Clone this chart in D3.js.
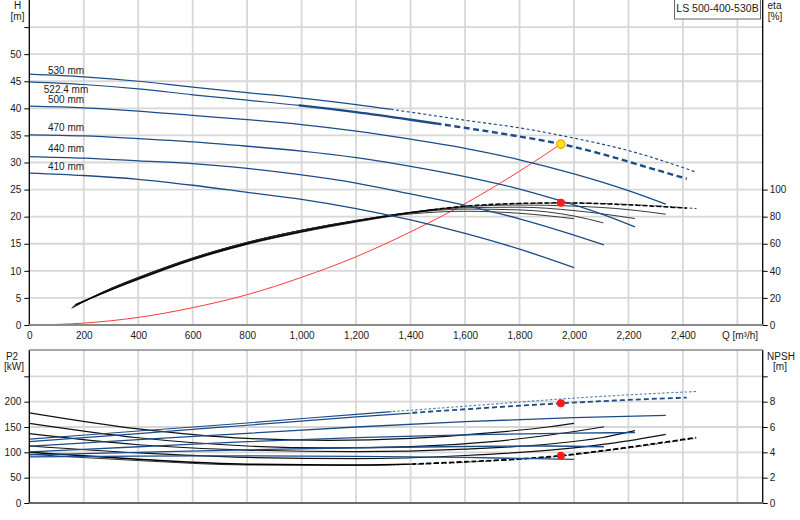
<!DOCTYPE html>
<html><head><meta charset="utf-8">
<script src="https://cdn.jsdelivr.net/npm/d3@7"></script>
<style>body{margin:0;background:#fff}svg{display:block;font-family:"Liberation Sans",Arial,sans-serif}</style>
</head><body><svg id="c" width="800" height="520"></svg>
<script>
// ---------- DATA ----------
const curveLabels = ["530 mm","522.4 mm","500 mm","470 mm","440 mm","410 mm"];
const pumpName = "LS 500-400-530B";
const qTicks = [0,200,400,600,800,1000,1200,1400,1600,1800,2000,2200,2400];
const qGrid = [200,400,600,800,1000,1200,1400,1600,1800,2000,2200,2400,2600];
const hTicks = [0,5,10,15,20,25,30,35,40,45,50,55];
const etaTicks = [0,20,40,60,80,100];
const p2Ticks = [0,50,100,150,200,250];
const npshTicks = [0,2,4,6,8,10];

// Head H [m] vs Q [m3/h]
const H530 = [[0,46.3],[200,45.8],[400,45.0],[600,43.9],[800,42.9],[1000,41.9],[1200,40.7],[1400,39.3],[1600,37.8],[1800,36.4],[2000,34.5],[2200,32.2],[2450,28.2]];
const H522 = [[0,44.9],[200,44.4],[400,43.6],[600,42.5],[800,41.5],[1000,40.5],[1200,39.3],[1400,37.9],[1600,36.4],[1800,34.8],[1953,33.4],[2100,31.6],[2250,29.4],[2414,27.0]];
const H500 = [[0,40.4],[200,40.1],[400,39.5],[600,38.7],[800,37.9],[1000,37.0],[1200,35.8],[1400,34.3],[1600,32.6],[1800,30.5],[2000,27.9],[2200,24.8],[2337,22.3]];
const H470 = [[0,35.1],[200,34.9],[400,34.4],[600,33.8],[800,33.0],[1000,32.1],[1200,30.9],[1400,29.3],[1600,27.4],[1800,25.1],[1953,22.9],[2100,20.5],[2224,18.1]];
const H440 = [[0,31.1],[200,30.8],[400,30.3],[600,29.8],[800,28.9],[1000,27.7],[1200,26.2],[1400,24.2],[1600,22.1],[1800,19.6],[2000,16.6],[2110,14.8]];
const H410 = [[0,28.05],[200,27.6],[400,26.9],[600,25.8],[800,24.5],[1000,23.2],[1200,21.5],[1400,19.4],[1600,16.9],[1800,14.0],[2000,10.6]];

// Efficiency eta [%]
const E530 = [[180,16],[300,26],[400,33.5],[600,48],[800,59.5],[1000,68.5],[1200,76],[1400,82.5],[1600,87.3],[1800,89.6],[2000,90.1],[2200,89],[2450,86]];
const E522 = [[170,15],[300,26],[400,34],[600,48.5],[800,60],[1000,69],[1200,76.5],[1400,83],[1600,87.8],[1800,89.8],[1953,90.2],[2100,89.6],[2250,88.2],[2414,86.3]];
const E500 = [[165,14.5],[300,26.5],[400,34.5],[600,49],[800,60.5],[1000,69.5],[1200,77],[1400,83.2],[1600,87.4],[1800,88.6],[2000,87.8],[2200,85.2],[2337,81.8]];
const E470 = [[160,13.5],[300,27],[400,34.8],[600,49.3],[800,61],[1000,70],[1200,77.2],[1400,83.2],[1600,86.6],[1800,87],[2000,84.5],[2224,78.6]];
const E440 = [[158,13],[300,27],[400,35],[600,49.5],[800,61],[1000,70],[1200,77.2],[1400,82.8],[1600,85.6],[1800,85],[2000,80.5],[2108,75.4]];
const E410 = [[155,12.3],[300,27],[400,35.2],[600,49.5],[800,61],[1000,70],[1200,77],[1400,82],[1600,84],[1800,82.5],[2000,78.5]];

// System curve H [m]
const SYS = [[0,0],[200,0.35],[400,1.4],[600,3.2],[800,5.6],[1000,8.8],[1200,12.6],[1400,17.2],[1600,22.4],[1800,28.4],[1952,33.4]];

// Power P2 [kW]
const P530 = [[0,126],[400,142],[800,158],[1200,175],[1600,191],[2000,207],[2200,213.5],[2450,220]];
const P522 = [[0,121],[400,137],[800,153.5],[1200,170],[1600,185],[1953,196.8],[2200,203.5],[2414,208]];
const P500 = [[0,112],[400,125],[800,137.5],[1200,150],[1600,160.5],[2000,168.5],[2337,173]];
const P470 = [[0,101],[400,111],[800,121],[1200,129],[1600,134.5],[2000,138],[2224,139]];
const P440 = [[0,95],[400,100],[800,105],[1200,109],[1600,111.5],[1900,112.5],[2110,111]];
const P410 = [[0,91],[400,92.5],[800,93],[1200,92],[1600,90],[2000,86]];

// NPSH [m]
const N530 = [[0,3.85],[400,3.35],[800,3.0],[1200,2.98],[1600,3.22],[1950,3.7],[2200,4.35],[2450,5.12]];
const N522 = [[0,4.0],[400,3.45],[800,3.06],[1200,3.0],[1600,3.25],[1953,3.74],[2200,4.4],[2447,5.16]];
const N500 = [[0,4.5],[400,3.95],[800,3.6],[1200,3.5],[1600,3.75],[1912,4.18],[2150,4.75],[2337,5.42]];
const N470 = [[0,5.47],[400,4.6],[800,4.18],[1200,4.05],[1600,4.25],[1912,4.66],[2100,5.15],[2224,5.71]];
const N440 = [[0,6.29],[400,5.15],[800,4.5],[1100,4.35],[1400,4.45],[1700,4.85],[1912,5.37],[2110,6.02]];
const N410 = [[0,7.12],[400,5.85],[800,5.1],[1100,4.95],[1400,5.1],[1700,5.55],[1912,6.02],[2000,6.28]];

// Duty point
const dutyQ = 1952, dutyH = 33.4, dutyEta = 90.2, dutyP2 = 196.8, dutyNPSH = 3.74;

// ---------- CHART ----------
const svg = d3.select("#c");
const BLUE = "#1b4c88", GRID = "#d7d7d7", TXT = "#1a1a1a";
const x = d3.scaleLinear().domain([0,2693]).range([29.3,762.7]);
const yH = d3.scaleLinear().domain([0,60]).range([325,0]);
const yE = d3.scaleLinear().domain([0,240]).range([325,0]);
const yP = d3.scaleLinear().domain([0,300]).range([503,351]);
const yN = d3.scaleLinear().domain([0,12]).range([503,351]);

const defs = svg.append("defs");
function clip(id, q0, q1, y0, y1){
  defs.append("clipPath").attr("id",id).append("rect")
    .attr("x",x(q0)).attr("width",x(q1)-x(q0)).attr("y",y0).attr("height",y1-y0);
}

// grids
const g = svg.append("g");
g.selectAll(".vg1").data(qGrid).join("line").attr("x1",d=>x(d)).attr("x2",d=>x(d)).attr("y1",0).attr("y2",325).attr("stroke",GRID).attr("stroke-width",1.8);
g.selectAll(".hg1").data(hTicks.filter(d=>d>0)).join("line").attr("x1",x(0)).attr("x2",x(2693)).attr("y1",d=>yH(d)).attr("y2",d=>yH(d)).attr("stroke",GRID).attr("stroke-width",1.8);
g.selectAll(".vg2").data(qGrid).join("line").attr("x1",d=>x(d)).attr("x2",d=>x(d)).attr("y1",350).attr("y2",503).attr("stroke",GRID).attr("stroke-width",1.8);
g.selectAll(".hg2").data(p2Ticks.filter(d=>d>0)).join("line").attr("x1",x(0)).attr("x2",x(2693)).attr("y1",d=>yP(d)).attr("y2",d=>yP(d)).attr("stroke",GRID).attr("stroke-width",1.8);

const lineGen = ys => d3.line().x(d=>x(d[0])).y(d=>ys(d[1])).curve(d3.curveMonotoneX);

function draw(data, ys, color, width, dash, clipId){
  const p = svg.append("path").attr("d", lineGen(ys)(data)).attr("fill","none")
    .attr("stroke",color).attr("stroke-width",width).attr("stroke-linejoin","round");
  if(dash) p.attr("stroke-dasharray",dash);
  if(clipId) p.attr("clip-path",`url(#${clipId})`);
  return p;
}
// clip regions for styled segments
clip("t530a",0,1330,0,325); clip("t530b",1330,2693,0,325);
clip("t522a",0,990,0,325); clip("t522b",990,1500,0,325); clip("t522c",1500,2693,0,325);
clip("e522a",0,1500,0,325); clip("e522b",1500,2693,0,325);
clip("b530a",0,1330,350,503); clip("b530b",1330,2693,350,503);
clip("b522a",0,1400,350,503); clip("b522b",1400,2693,350,503);

// ---- top chart: system curve
draw(SYS, yH, "#ff3b3b", 1, null);

// ---- efficiency curves (black)
[E410,E440,E470,E500].forEach(d=>draw(d, yE, "#222", 0.9, null));
draw(E530, yE, "#333", 0.9, null, "t530a");
draw(E530, yE, "#333", 0.9, "3,2", "t530b");
draw(E522, yE, "#000", 1.4, null, "e522a");
draw(E522, yE, "#000", 1.5, "5,2", "e522b");

// ---- head curves (blue)
[H410,H440,H470,H500].forEach(d=>draw(d, yH, BLUE, 1.3, null));
draw(H530, yH, BLUE, 1.2, null, "t530a");
draw(H530, yH, BLUE, 1.2, "3,2.5", "t530b");
draw(H522, yH, BLUE, 1.2, null, "t522a");
draw(H522, yH, BLUE, 2.4, null, "t522b");
draw(H522, yH, BLUE, 2.4, "6,3.5", "t522c");

// ---- bottom chart NPSH (black)
[N410,N440,N470,N500].forEach(d=>draw(d, yN, "#111", 1.2, null));
draw(N530, yN, "#333", 1, null, "b530a");
draw(N530, yN, "#333", 1, "2,2", "b530b");
draw(N522, yN, "#000", 1.5, null, "b522a");
draw(N522, yN, "#000", 1.8, "5,2.5", "b522b");

// ---- bottom chart P2 (blue)
[P410,P440,P470,P500].forEach(d=>draw(d, yP, BLUE, 1.3, null));
draw(P530, yP, BLUE, 1.1, null, "b530a");
draw(P530, yP, "#5a7fae", 1.1, "2.5,2", "b530b");
draw(P522, yP, BLUE, 1.2, null, "b522a");
draw(P522, yP, BLUE, 1.8, "5,3", "b522b");

// ---- duty points
svg.append("circle").attr("cx",x(dutyQ)).attr("cy",yE(dutyEta)).attr("r",4).attr("fill","#ff1a1a");
svg.append("circle").attr("cx",x(dutyQ)).attr("cy",yH(dutyH)).attr("r",4.2).attr("fill","#ffe31a").attr("stroke","#f0a000").attr("stroke-width",1.2);
svg.append("circle").attr("cx",x(dutyQ)).attr("cy",yP(dutyP2)).attr("r",4).attr("fill","#ff1a1a");
svg.append("circle").attr("cx",x(dutyQ)).attr("cy",yN(dutyNPSH)).attr("r",4).attr("fill","#ff1a1a");

// ---- curve labels
const labelPos = [[66,74],[66,93],[66,103],[66,130.5],[66,152],[66,169.5]];
curveLabels.forEach((t,i)=>{
  svg.append("text").attr("x",labelPos[i][0]).attr("y",labelPos[i][1]).attr("text-anchor","middle")
    .attr("font-size",10).attr("fill",TXT).text(t);
});

// ---- axes
function styleAxis(sel){
  sel.select(".domain").remove();
  sel.selectAll("text").attr("font-size",10).attr("fill",TXT).style("font-family",'"Liberation Sans",Arial,sans-serif');
  sel.selectAll("line").attr("stroke","#000");
}
svg.append("g").attr("transform",`translate(${x(0)},0)`)
  .call(d3.axisLeft(yH).tickValues(hTicks).tickSize(5).tickPadding(3).tickFormat(d=>d<=50?d:""))
  .call(styleAxis);
svg.append("g").attr("transform",`translate(${x(2693)},0)`)
  .call(d3.axisRight(yE).tickValues(etaTicks).tickSize(5).tickPadding(2))
  .call(styleAxis);
svg.append("g").attr("transform",`translate(0,325)`)
  .call(d3.axisBottom(x).tickValues(qTicks).tickSize(0).tickPadding(7).tickFormat(d3.format(",")))
  .call(styleAxis);
svg.append("g").attr("transform",`translate(${x(0)},0)`)
  .call(d3.axisLeft(yP).tickValues(p2Ticks).tickSize(5).tickPadding(3).tickFormat(d=>d<=200?d:""))
  .call(styleAxis);
svg.append("g").attr("transform",`translate(${x(2693)},0)`)
  .call(d3.axisRight(yN).tickValues(npshTicks).tickSize(5).tickPadding(2).tickFormat(d=>d<=8?d:""))
  .call(styleAxis);

// axis frame lines
svg.append("line").attr("x1",x(0)).attr("x2",x(0)).attr("y1",0).attr("y2",325).attr("stroke","#000").attr("stroke-width",1.3);
svg.append("line").attr("x1",x(2693)).attr("x2",x(2693)).attr("y1",0).attr("y2",325).attr("stroke","#000").attr("stroke-width",1.3);
svg.append("line").attr("x1",x(0)).attr("x2",x(2693)).attr("y1",325).attr("y2",325).attr("stroke","#8a8a8a").attr("stroke-width",2.2);
svg.append("line").attr("x1",x(0)).attr("x2",x(0)).attr("y1",350).attr("y2",503).attr("stroke","#000").attr("stroke-width",1.3);
svg.append("line").attr("x1",x(2693)).attr("x2",x(2693)).attr("y1",350).attr("y2",503).attr("stroke","#000").attr("stroke-width",1.3);
svg.append("line").attr("x1",x(0)).attr("x2",x(2693)).attr("y1",350).attr("y2",350).attr("stroke","#8a8a8a").attr("stroke-width",1.5);
svg.append("line").attr("x1",x(0)).attr("x2",x(2693)).attr("y1",503).attr("y2",503).attr("stroke","#6a6a6a").attr("stroke-width",2);

// axis titles
function txt(t,xx,yy,anchor){svg.append("text").attr("x",xx).attr("y",yy).attr("text-anchor",anchor||"middle").attr("font-size",10).attr("fill",TXT).text(t);}
txt("H",17.5,9); txt("[m]",17.5,20);
txt("eta",774.5,9); txt("[%]",775,20);
txt("Q [m³/h]",740,339);
txt("P2",12,360); txt("[kW]",14,370);
txt("NPSH",781,360); txt("[m]",780,370);

// pump name box
svg.append("rect").attr("x",674.5).attr("y",-1).attr("width",86).attr("height",20).attr("fill","#fff").attr("stroke","#666").attr("stroke-width",1);
svg.append("text").attr("x",717.5).attr("y",11.5).attr("text-anchor","middle").attr("font-size",10.5).attr("fill",TXT).text(pumpName);
</script></body></html>
